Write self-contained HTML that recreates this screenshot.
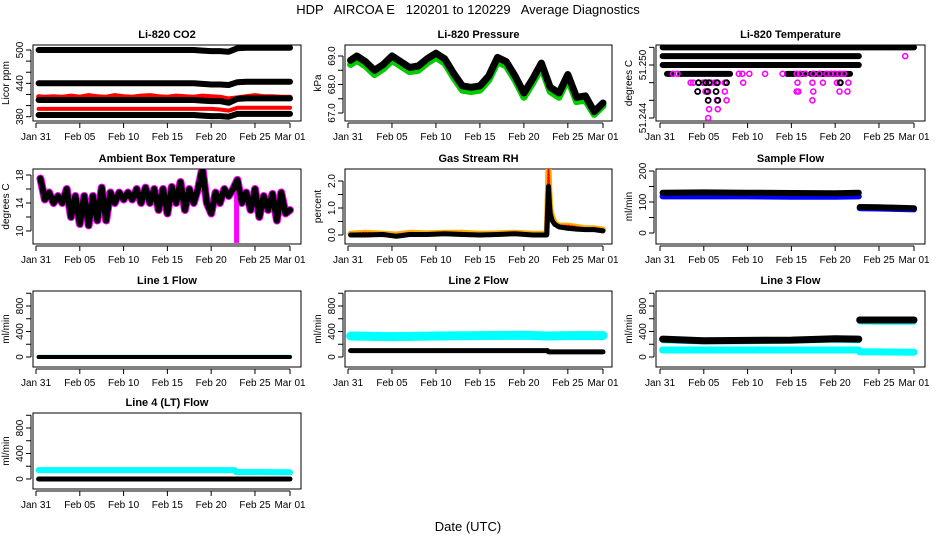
<!DOCTYPE html>
<html><head><meta charset="utf-8">
<style>
html,body{margin:0;padding:0;background:#fff;}
svg{display:block;font-family:"Liberation Sans",sans-serif;}
</style></head>
<body>
<svg id="chart" width="936" height="540" viewBox="0 0 936 540">
<rect x="0" y="0" width="936" height="540" fill="#fff"/>
<text x="468" y="14" font-size="13" text-anchor="middle" xml:space="preserve">HDP   AIRCOA E   120201 to 120229   Average Diagnostics</text>
<text x="468" y="531" font-size="13" text-anchor="middle">Date (UTC)</text>
</svg>
<script>
// ---------- data ----------
const xTickDays=[0,5,10,15,20,25,29];
const xTickLabels=["Jan 31","Feb 05","Feb 10","Feb 15","Feb 20","Feb 25","Mar 01"];
const days=[0.3,1,2,3,4,5,6,7,8,9,10,11,12,13,14,15,16,17,18,19,20,21,22,23,24,25,26,27,28,29];
// CO2
const co2Ticks=[380,400,420,440,460,480,500];
const co2Labels=["380","","","440","","","500"];
const co2A=[500,500,500,500,500,500,500,500,500,500,500,500,500,500,500,500,500,500,500,499,498,498,497,503,504,504,504,504,504,504];
const co2B=[440,440,440,440,440,440,440,440,440,440,440,440,440,440,440,440,440,440,440,439,438,438,437,442,443,443,443,443,443,443];
const co2C=[410,410,410,410,410,410,410,410,410,410,410,410,410,410,410,410,410,410,410,409,408,408,405,412,413,413,413,413,413,413];
const co2D=[383,383,383,383,383,383,383,383,383,383,383,383,383,383,383,383,383,383,383,382,381,381,380,385,385,385,385,385,385,385];
const co2RedA=[416,415,416,415,417,415,418,416,415,418,416,415,417,418,416,415,417,416,415,417,416,415,412,414,416,418,416,416,415,415];
const co2RedB=[394,394,394,394,394,394,394,394,394,394,394,394,394,394,394,394,394,394,394,394,394,393,391,396,396,396,396,396,396,396];
// Pressure
const presTicks=[67.0,67.5,68.0,68.5,69.0];
const presLabels=["67.0","","68.0","","69.0"];
const presBlack=[68.85,69.0,68.8,68.5,68.7,69.0,68.8,68.6,68.65,68.9,69.1,68.9,68.4,67.95,67.9,67.95,68.3,68.95,68.8,68.3,67.7,68.2,68.75,67.9,67.7,68.35,67.55,67.6,67.05,67.35];
const presGreen=[68.7,68.85,68.65,68.35,68.55,68.85,68.65,68.45,68.5,68.75,68.95,68.75,68.25,67.8,67.75,67.8,68.15,68.8,68.65,68.15,67.55,68.05,68.6,67.75,67.55,68.2,67.4,67.45,66.95,67.25];
// Li-820 temperature
const tempTicks=[51.244,51.246,51.248,51.250,51.252];
const tempLabels=["51.244","","","51.250",""];
const tempSegStart=[0.3,0.3,0.3,0.8,2.3,14.5,17.2];
const tempSegEnd=[29,22.7,22.7,1.3,8.0,16.5,21.7];
const tempSegLevel=[51.252,51.251,51.250,51.249,51.249,51.249,51.249];
const tempMagDay=[1.5,2.0,9.0,9.4,10.2,12.0,14.0,15.6,16.0,16.6,17.5,18.2,19.0,19.5,20.0,20.5,21.0,3.5,3.8,4.4,4.9,5.3,5.8,6.2,6.6,7.4,9.5,15.7,17.4,18.6,20.2,20.5,21.5,4.3,5.2,5.5,6.4,7.4,15.6,15.8,17.5,20.5,21.4,5.5,6.5,7.6,17.4,5.6,6.6,5.5,28.0];
const tempMagLevel=[51.249,51.249,51.249,51.249,51.249,51.249,51.249,51.249,51.249,51.249,51.249,51.249,51.249,51.249,51.249,51.249,51.249,51.248,51.248,51.248,51.248,51.248,51.248,51.248,51.248,51.248,51.248,51.248,51.248,51.248,51.248,51.248,51.248,51.247,51.247,51.247,51.247,51.247,51.247,51.247,51.247,51.247,51.247,51.246,51.246,51.246,51.246,51.245,51.245,51.244,51.251];
const tempBlkDay=[4.4,5.2,5.6,6.5,7.6,20.6,4.3,5.4,6.4,5.5,6.6];
const tempBlkLevel=[51.248,51.248,51.248,51.248,51.248,51.248,51.247,51.247,51.247,51.246,51.246];
// Ambient
const ambTicks=[10,12,14,16,18];
const ambLabels=["10","","14","","18"];
const ambDays=[0.5,1,1.5,2,2.5,3,3.5,4,4.5,5,5.5,6,6.5,7,7.5,8,8.5,9,9.5,10,10.5,11,11.5,12,12.5,13,13.5,14,14.5,15,15.5,16,16.5,17,17.5,18,18.5,19,19.5,20,20.5,21,21.5,22,22.5,23,23.5,24,24.5,25,25.5,26,26.5,27,27.5,28,28.5,29];
const ambVals=[17.5,14.5,15.5,14,15,14,16,12,15,11,15,10.8,15,11.5,16.2,11.5,15.5,14,15.5,14.5,15.5,14.5,16,14,16.2,14,16,13,16,12.5,16.3,14,17,13,16,14,16,19,14,12.5,15.5,14,16,15,16,17.3,14,15.5,13,16,12,15,13,15.3,11.5,15.5,12.5,13];
const ambSpikeDay=[22.9];
const ambSpikeLow=[8.3];
const ambSpikeHigh=[16.5];
// RH
const rhTicks=[0,0.5,1.0,1.5,2.0];
const rhLabels=["0.0","","1.0","","2.0"];
const rhDays=[0.3,2,4,5.5,7,9,11,13,15,17,19,21,22.6,22.8,22.9,23.0,23.2,23.5,24,25,26,27,28,29];
const rhBlack=[0,0,0.02,-0.05,0.02,0.02,0.05,0.02,0,0.02,0.05,0,0,1.8,1.2,0.8,0.55,0.4,0.3,0.25,0.22,0.2,0.2,0.15];
const rhOrange=[0.05,0.08,0.05,0.02,0.08,0.06,0.08,0.08,0.05,0.06,0.08,0.05,0.05,2.5,1.6,1.0,0.7,0.45,0.35,0.35,0.3,0.25,0.25,0.2];
// Flows
const flowDays=[0.3,5,10,15,20,22.7,22.8,25,29];
const sfTicks=[0,50,100,150,200];
const sfLabels=["0","","100","","200"];
const sfBlack=[130,131,130,129,128,130,84,83,80];
const sfBlue=[118,118,118,117,117,118,80,79,76];
const lineTicks=[0,200,400,600,800,1000];
const lineLabels=["0","","400","","800",""];
const l1Cyan=[3,3,3,3,3,3,3,3,3];
const l1Black=[0,0,0,0,0,0,0,0,0];
const l2Cyan=[330,320,330,335,340,330,330,335,335];
const l2Black=[100,100,100,100,100,100,80,80,80];
const l3Cyan2=[255,235,240,250,262,255,550,545,545];
const l3Black=[280,255,260,265,285,280,580,580,580];
const l3Cyan=[110,110,110,110,110,110,80,80,75];
const l4Cyan=[140,140,140,140,140,140,110,110,105];
const l4Black=[0,0,0,0,0,0,0,0,0];

// ---------- layout ----------
const NS="http://www.w3.org/2000/svg";
const svg=document.getElementById('chart');
const COLS=[{bl:33,br:301,x0:36,x1:290},{bl:345,br:612,x0:348,x1:603},{bl:656,br:925,x0:660,x1:914}];
const ROWS=[{bt:45,bb:121},{bt:169,bb:244},{bt:291,bb:367},{bt:413,bb:489}];
function el(tag,attrs,parent){const e=document.createElementNS(NS,tag);for(const k in attrs)e.setAttribute(k,attrs[k]);(parent||svg).appendChild(e);return e;}

function panel(name,title,ylab,c,r,v0,p0,v1,p1,ticks,labels){
  const C=COLS[c],R=ROWS[r];
  const g=el('g',{});
  
  
  const x=d=>C.x0+(d/29)*(C.x1-C.x0);
  const y=v=>p0+(v-v0)/(v1-v0)*(p1-p0);
  const box=el('rect',{x:C.bl,y:R.bt,width:C.br-C.bl,height:R.bb-R.bt,fill:'none',stroke:'#000','stroke-width':1},g);
  
  
  const t=el('text',{x:(C.bl+C.br)/2,y:R.bt-7,'font-size':11,'font-weight':'bold','text-anchor':'middle'},g);
  t.textContent=title;
  
  
  const yl=el('text',{x:0,y:0,'font-size':10,'text-anchor':'middle',transform:`translate(${C.bl-24},${(R.bt+R.bb)/2}) rotate(-90)`},g);
  yl.textContent=ylab;
  
  
  // x axis
  const xa=el('g',{},g);
  
  
  el('line',{x1:x(xTickDays[0]),x2:x(xTickDays[xTickDays.length-1]),y1:R.bb+2,y2:R.bb+2,stroke:'#000'},xa);
  xTickDays.forEach((d,i)=>{
    el('line',{x1:x(d),x2:x(d),y1:R.bb+2,y2:R.bb+7,stroke:'#000'},xa);
    const tl=el('text',{x:x(d),y:R.bb+19,'font-size':10,'text-anchor':'middle'},xa);
    tl.textContent=xTickLabels[i];
    
    
  });
  // y axis
  const ya=el('g',{},g);
  
  
  el('line',{x1:C.bl-2,x2:C.bl-2,y1:y(ticks[0]),y2:y(ticks[ticks.length-1]),stroke:'#000'},ya);
  ticks.forEach((v,i)=>{
    el('line',{x1:C.bl-7,x2:C.bl-2,y1:y(v),y2:y(v),stroke:'#000'},ya);
    if(labels[i]){
      const tl=el('text',{x:0,y:0,'font-size':10,'text-anchor':'middle',transform:`translate(${C.bl-10},${y(v)}) rotate(-90)`},ya);
      tl.textContent=labels[i];
      
      
    }
  });
  const clip=el('clipPath',{id:'clip'+name},g);
  el('rect',{x:C.bl,y:R.bt,width:C.br-C.bl,height:R.bb-R.bt},clip);
  const dg=el('g',{'clip-path':`url(#clip${name})`},g);
  
  
  return {x,y,g:dg};
}
function series(P,xs,ys,color,w,name,dash){
  let pts=[];const segs=[];
  xs.forEach((d,i)=>{if(ys[i]===null){if(pts.length)segs.push(pts);pts=[];}else pts.push(P.x(d).toFixed(1)+','+P.y(ys[i]).toFixed(1));});
  if(pts.length)segs.push(pts);
  segs.forEach(s=>{
    const a={points:s.join(' '),fill:'none',stroke:color,'stroke-width':w,'stroke-linejoin':'round','stroke-linecap':'round'};
    if(dash)a['stroke-dasharray']=dash;
    const pl=el('polyline',a,P.g);
    
    
  });
}

// CO2
let P=panel('co2','Li-820 CO2','Licor ppm',0,0,380,116.7,500,50,co2Ticks,co2Labels);
series(P,days,co2RedA,'#f00',5,'co2-red-upper');
series(P,days,co2RedB,'#f00',4,'co2-red-lower');
series(P,days,co2A,'#000',6,'co2-black-500');
series(P,days,co2B,'#000',6,'co2-black-440');
series(P,days,co2C,'#000',6,'co2-black-410');
series(P,days,co2D,'#000',6,'co2-black-383');

// Pressure
P=panel('pressure','Li-820 Pressure','kPa',1,0,67,113,69,56,presTicks,presLabels);
series(P,days,presGreen,'#0c0',7,'pressure-green');
series(P,days,presBlack,'#000',7,'pressure-black');

// Temperature
P=panel('li820-temp','Li-820 Temperature','degrees C',2,0,51.244,118,51.250,65,tempTicks,tempLabels);
tempSegStart.forEach((s,i)=>{
  const ln=el('line',{x1:P.x(s),x2:P.x(tempSegEnd[i]),y1:P.y(tempSegLevel[i]),y2:P.y(tempSegLevel[i]),stroke:'#000','stroke-width':6,'stroke-linecap':'round'},P.g);
  
  
});
tempMagDay.forEach((d,i)=>{
  const ci=el('circle',{cx:P.x(d),cy:P.y(tempMagLevel[i]),r:2.5,fill:'none',stroke:'#f0f','stroke-width':1.6},P.g);
  
  
});
tempBlkDay.forEach((d,i)=>{
  const ci=el('circle',{cx:P.x(d),cy:P.y(tempBlkLevel[i]),r:2.5,fill:'none',stroke:'#000','stroke-width':1.8},P.g);
  
  
});

// Ambient
P=panel('ambient','Ambient Box Temperature','degrees C',0,1,10,231,18,175,ambTicks,ambLabels);
series(P,ambDays,ambVals,'#f0f',8,'ambient-magenta');
ambSpikeDay.forEach((d,i)=>{
  const rc=el('rect',{x:P.x(d)-2.5,y:P.y(ambSpikeHigh[i]),width:5,height:P.y(ambSpikeLow[i])-P.y(ambSpikeHigh[i]),fill:'#f0f'},P.g);
  
  
});
series(P,ambDays,ambVals,'#000',6,'ambient-black');

// RH
P=panel('rh','Gas Stream RH','percent',1,1,0,235,2,181,rhTicks,rhLabels);
series(P,rhDays,rhOrange,'#fa0',6,'rh-orange');
series(P,rhDays,rhOrange,'#f00',2,'rh-red','1 2');
series(P,rhDays,rhBlack,'#000',5,'rh-black');

// Sample flow
P=panel('sample-flow','Sample Flow','ml/min',2,1,0,233,200,171,sfTicks,sfLabels);
const gapFix=a=>a; 
series(P,flowDays.slice(0,6),sfBlue.slice(0,6),'#00f',6,'sample-flow-blue');
series(P,flowDays.slice(6),sfBlue.slice(6),'#00f',6,'sample-flow-blue');
series(P,flowDays.slice(0,6),sfBlack.slice(0,6),'#000',6,'sample-flow-black');
series(P,flowDays.slice(6),sfBlack.slice(6),'#000',6,'sample-flow-black');

// Line flows
function flowPanel(name,title,c,r,list){
  const R=ROWS[r];
  const p=panel(name,title,'ml/min',c,r,0,R.bb-10,800,R.bb-61,lineTicks,lineLabels);
  list.forEach(s=>{
    series(p,flowDays.slice(0,6),s[0].slice(0,6),s[1],s[2],name+'-'+s[3]);
    series(p,flowDays.slice(6),s[0].slice(6),s[1],s[2],name+'-'+s[3]);
  });
}
flowPanel('line1-flow','Line 1 Flow',0,2,[[l1Cyan,'#0ff',4,'cyan'],[l1Black,'#000',4,'black']]);
flowPanel('line2-flow','Line 2 Flow',1,2,[[l2Cyan,'#0ff',9,'cyan'],[l2Black,'#000',5,'black']]);
flowPanel('line3-flow','Line 3 Flow',2,2,[[l3Cyan2,'#0ff',5,'cyan-upper'],[l3Cyan,'#0ff',7,'cyan'],[l3Black,'#000',7,'black']]);
flowPanel('line4-flow','Line 4 (LT) Flow',0,3,[[l4Cyan,'#0ff',6,'cyan'],[l4Black,'#000',5,'black']]);
</script>
</body></html>
